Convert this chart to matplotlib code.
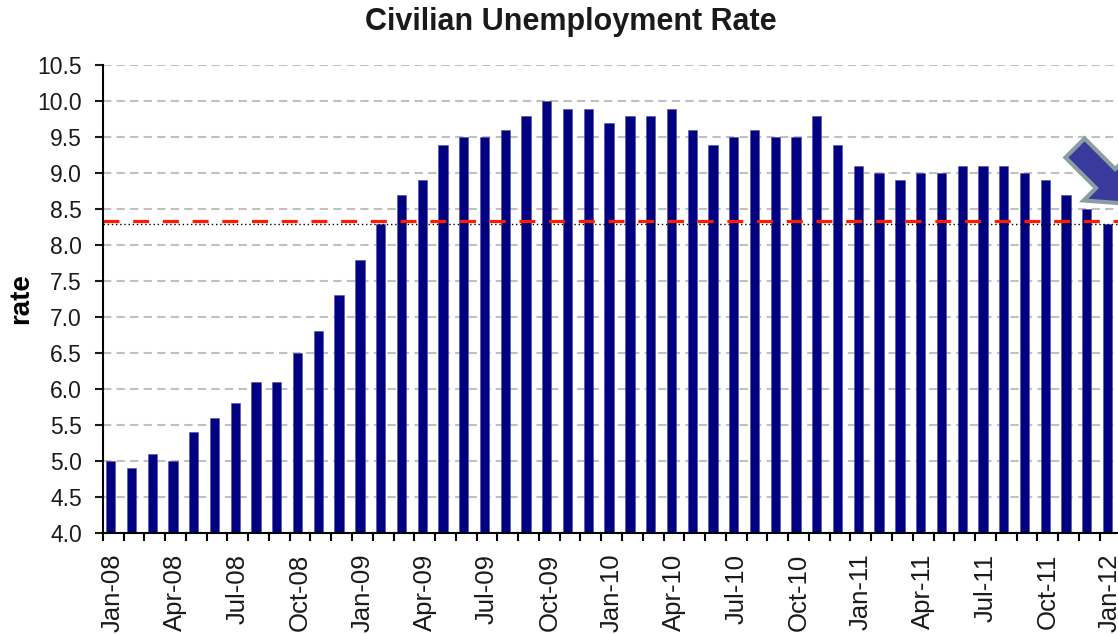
import matplotlib
matplotlib.use("Agg")
import matplotlib.pyplot as plt
from matplotlib.patches import FancyArrow
import numpy as np

plt.rcParams['font.family'] = ['Liberation Sans', 'DejaVu Sans']

# monthly civilian unemployment rate, Jan-08 .. Jan-12
months = ["Jan", "Feb", "Mar", "Apr", "May", "Jun",
          "Jul", "Aug", "Sep", "Oct", "Nov", "Dec"]
labels = [m + "-" + y for y in ["08", "09", "10", "11"] for m in months] + ["Jan-12"]
rate = [5.0, 4.9, 5.1, 5.0, 5.4, 5.6, 5.8, 6.1, 6.1, 6.5, 6.8, 7.3,
        7.8, 8.3, 8.7, 8.9, 9.4, 9.5, 9.5, 9.6, 9.8, 10.0, 9.9, 9.9,
        9.7, 9.8, 9.8, 9.9, 9.6, 9.4, 9.5, 9.6, 9.5, 9.5, 9.8, 9.4,
        9.1, 9.0, 8.9, 9.0, 9.0, 9.1, 9.1, 9.1, 9.0, 8.9, 8.7, 8.5,
        8.3]
ref_level = 8.34      # red dashed reference line
latest_level = 8.3    # black dotted line under it

fig = plt.figure(figsize=(11.18, 6.34), dpi=100)
# axes runs a little past the right edge, like the cropped original
ax = fig.add_axes([0.0919, 0.1598, 0.9103, 0.7370])

x = np.arange(len(rate))
ax.bar(x - 0.12, rate, width=0.45, color="#000080", edgecolor="#5050a8",
       linewidth=0.4, zorder=3)

ax.axhline(latest_level, color="black", linewidth=1.0, linestyle=(0, (1, 2)), zorder=4)
ax.axhline(ref_level, color="#ff1a00", linewidth=2.3, linestyle=(0, (5, 4.3)), zorder=5)

ax.set_xlim(-0.5, len(rate) - 0.5)
ax.set_ylim(4.0, 10.5)
ax.set_yticks(np.arange(4.0, 10.51, 0.5))
ax.set_yticklabels(["%.1f" % v for v in np.arange(4.0, 10.51, 0.5)])
ax.set_xticks(x[::3])
ax.set_xticklabels(labels[::3], rotation=90)
ax.set_xticks(np.arange(-0.5, len(rate), 1.0), minor=True)

ax.tick_params(axis="y", direction="out", length=6, width=1.5, labelsize=16.5,
               colors="#1a1a1a", pad=9)
ax.tick_params(axis="x", which="major", length=0, labelsize=18.5,
               colors="#1a1a1a", pad=15)
ax.tick_params(axis="x", which="minor", direction="out", length=6, width=1.5)

ax.yaxis.grid(True, color="#c0c0c0", linewidth=1.5, linestyle=(0, (4, 2.5)), zorder=0)
for s in ["top", "right"]:
    ax.spines[s].set_visible(False)
for s in ["left", "bottom"]:
    ax.spines[s].set_linewidth(1.5)
    ax.spines[s].set_color("black")
    ax.spines[s].set_zorder(6)

ax.set_ylabel("rate", fontsize=20, fontweight="bold")
ax.yaxis.set_label_coords(-0.067, 0.5)

fig.text(0.511, 0.965, "Civilian Unemployment Rate", ha="center", va="center",
         fontsize=22, fontweight="bold", color="#1a1a1a")

# block arrow pointing at the latest bar (drawn in inches)
arrow = FancyArrow(10.75, 4.86, 0.56, -0.56, width=0.27, head_width=0.62,
                   head_length=0.36, length_includes_head=True,
                   facecolor="#3a3a9c", edgecolor="#8aa0a0", linewidth=3,
                   transform=fig.dpi_scale_trans, zorder=10, clip_on=False)
fig.add_artist(arrow)

fig.savefig("out.png", dpi=100)
